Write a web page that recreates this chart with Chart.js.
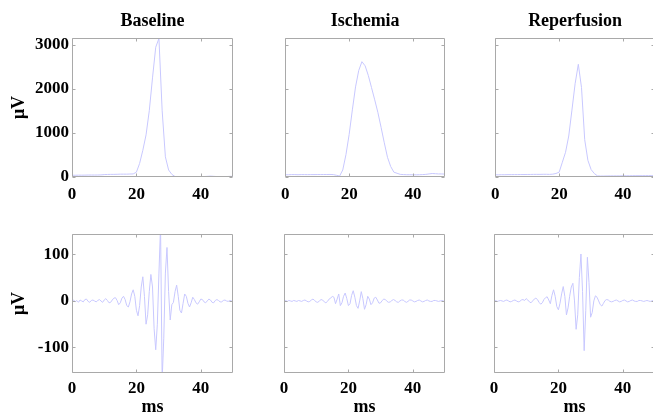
<!DOCTYPE html>
<html>
<head>
<meta charset="utf-8">
<script src="https://cdn.jsdelivr.net/npm/chart.js@4.4.0/dist/chart.umd.min.js"></script>
<style>
  html, body { margin: 0; padding: 0; background: #fff; overflow: hidden; }
  body { width: 653px; height: 414px; position: relative; }
  canvas { position: absolute; }
</style>
</head>
<body>
<script>
const panelTitles = ['Baseline', 'Ischemia', 'Reperfusion'];

// envelope traces, sampled every 1 ms
const envTime = [
  0, 1, 2, 3, 4, 5, 6, 7, 8, 9,
  10, 11, 12, 13, 14, 15, 16, 17, 18, 19,
  20, 21, 22, 23, 24, 25, 26, 27, 28, 29,
  30, 31, 32, 33, 34, 35, 36, 37, 38, 39,
  40, 41, 42, 43, 44, 45, 46, 47, 48, 49,
  50
];
const envBaseline = [
  30, 30, 32, 32, 33, 35, 35, 35, 36, 38,
  45, 48, 50, 50, 52, 55, 55, 55, 58, 60,
  100, 300, 600, 950, 1500, 2250, 2950, 3150, 1500, 450,
  150, 50, 0, -5, -5, -8, -8, -8, -8, -5,
  -5, 0, 5, 10, 5, 0, -5, -5, 0, 5,
  5
];
const envIschemia = [
  40, 42, 45, 45, 42, 45, 45, 44, 45, 45,
  46, 46, 47, 47, 48, 45, 30, 10, 150, 500,
  960, 1520, 2045, 2420, 2620, 2525, 2305, 2030, 1750, 1460,
  1120, 770, 440, 230, 100, 75, 50, 45, 42, 42,
  40, 40, 42, 45, 50, 60, 70, 65, 60, 60,
  55
];
const envReperfusion = [
  40, 40, 42, 42, 44, 44, 45, 45, 46, 46,
  48, 48, 50, 50, 50, 52, 52, 50, 55, 70,
  100, 327, 554, 925, 1515, 2120, 2560, 2030, 840, 370,
  160, 70, 15, 12, 12, 14, 15, 15, 16, 16,
  18, 18, 18, 20, 20, 20, 20, 22, 22, 22,
  20
];

// oscillatory traces, sampled every 0.5 ms
const oscTime = [
  0, 0.5, 1, 1.5, 2, 2.5, 3, 3.5, 4, 4.5,
  5, 5.5, 6, 6.5, 7, 7.5, 8, 8.5, 9, 9.5,
  10, 10.5, 11, 11.5, 12, 12.5, 13, 13.5, 14, 14.5,
  15, 15.5, 16, 16.5, 17, 17.5, 18, 18.5, 19, 19.5,
  20, 20.5, 21, 21.5, 22, 22.5, 23, 23.5, 24, 24.5,
  25, 25.5, 26, 26.5, 27, 27.5, 28, 28.5, 29, 29.5,
  30, 30.5, 31, 31.5, 32, 32.5, 33, 33.5, 34, 34.5,
  35, 35.5, 36, 36.5, 37, 37.5, 38, 38.5, 39, 39.5,
  40, 40.5, 41, 41.5, 42, 42.5, 43, 43.5, 44, 44.5,
  45, 45.5, 46, 46.5, 47, 47.5, 48, 48.5, 49, 49.5,
  50
];
const oscBaseline = [
  0, 2, -2, 1, -3, 2, 0, -2, 3, 4,
  -1, -3, 1, 2, 0, -2, 1, 3, 0, -3,
  2, 5, 1, -4, -3, 2, 6, 7, 1, -8,
  -4, 6, 10, 3, -10, -13, -2, 15, 24, 10,
  -20, -32, -10, 30, 52, 10, -50, -30, 20, 57,
  30, -60, -105, -50, 60, 160, -170, -80, 60, 115,
  20, -41, -8, -3, 20, 34, 10, -20, -26, -5,
  15, 10, -5, -13, -4, 8, 3, -4, -7, -2,
  4, 3, -2, -4, 0, 4, 2, -3, -4, 1,
  3, 1, -2, -2, 1, 2, 0, -1, 1, 0,
  0
];
const oscIschemia = [
  0, 1, -1, 1, 0, -1, 1, 0, -1, 1,
  0, -1, 1, 2, 0, -2, -1, 2, 4, 1,
  -2, -3, 0, 3, 2, -2, -4, -1, 4, 6,
  10, 8, -6, 4, 15, -10, -4, 10, 17, 5,
  -10, -6, 12, 22, 8, -10, -16, 0, 20, 5,
  -18, -8, 10, 4, -8, -4, 6, 8, 2, -5,
  -4, 1, 4, 3, -1, -3, -2, 1, 3, 1,
  -2, -3, 0, 2, 2, -1, -3, -1, 2, 2,
  0, -2, -1, 1, 2, 0, -2, -1, 1, 2,
  0, -1, -1, 1, 1, 0, -1, 0, 1, 0,
  0
];
const oscReperfusion = [
  0, 1, -1, 0, 1, 0, -1, 1, 2, 0,
  -2, -1, 1, 2, 0, -2, -1, 2, 3, 1,
  5, 2, -2, -4, 0, 4, 6, 3, -3, -7,
  -4, 3, 7, 9, 2, -6, 12, 24, 10, -12,
  -19, -5, 15, 31, 10, -30, -15, 10, 30, 38,
  0, -61, -30, 50, 101, 20, -107, -20, 94, 40,
  -35, -25, 0, 11, 8, 0, -8, -11, -5, 1,
  3, 2, -1, -2, -1, 1, 2, 0, -2, -1,
  1, 2, 0, -2, -1, 1, 2, 0, -1, -1,
  1, 1, 0, -1, 0, 1, 0, -1, 0, 1,
  0
];

const xTickValues = [0, 20, 40];
const envTickValues = [0, 1000, 2000, 3000];
const oscTickValues = [-100, 0, 100];

Chart.defaults.font.family = '"Liberation Serif", "Times New Roman", serif';
Chart.defaults.font.size = 17;
Chart.defaults.font.weight = 'bold';
Chart.defaults.color = '#000';

const traceColor = 'rgb(200, 200, 255)';
const frameColor = '#a9a9a9';

// axes box with short inward tick marks on every side
const framePlugin = {
  id: 'frame',
  afterDraw(chart) {
    const { ctx, chartArea: a, scales } = chart;
    const yTicks = chart.options.yTickValues;
    const l = Math.round(a.left) + 0.5, r = Math.round(a.right) - 0.5;
    const t = Math.round(a.top) + 0.5, b = Math.round(a.bottom) - 0.5;
    ctx.save();
    ctx.strokeStyle = frameColor;
    ctx.lineWidth = 1;
    ctx.beginPath();
    ctx.rect(l, t, r - l, b - t);
    xTickValues.forEach(v => {
      const px = Math.round(scales.x.getPixelForValue(v)) + 0.5;
      ctx.moveTo(px, b); ctx.lineTo(px, b - 3);
      ctx.moveTo(px, t); ctx.lineTo(px, t + 3);
    });
    yTicks.forEach(v => {
      const py = Math.round(scales.y.getPixelForValue(v)) + 0.5;
      ctx.moveTo(l, py); ctx.lineTo(l + 3, py);
      ctx.moveTo(r, py); ctx.lineTo(r - 3, py);
    });
    ctx.stroke();
    ctx.restore();
  }
};

const rowLayout = [
  { top: 0, height: 207, axisH: 30, pad: 7, padTop: 0, yMin: -10, yMax: 3160, ticks: envTickValues },
  { top: 214, height: 204, axisH: 45, pad: 5.5, padTop: 20, yMin: -155, yMax: 144, ticks: oscTickValues }
];
const colLayout = [
  { left: 0, width: 243, axisW: 72 },
  { left: 274, width: 181, axisW: 0 },
  { left: 484, width: 181, axisW: 0 }
];

function drawPanel(row, col, time, values) {
  const R = rowLayout[row], C = colLayout[col];
  const canvas = document.createElement('canvas');
  canvas.width = C.width;
  canvas.height = R.height;
  canvas.style.left = C.left + 'px';
  canvas.style.top = R.top + 'px';
  document.body.appendChild(canvas);

  new Chart(canvas, {
    type: 'line',
    data: {
      datasets: [{
        data: time.map((t, i) => ({ x: t, y: values[i] })),
        borderColor: traceColor,
        borderWidth: 1,
        pointRadius: 0,
        tension: 0
      }]
    },
    options: {
      responsive: false,
      animation: false,
      yTickValues: R.ticks,
      layout: { padding: { left: col === 0 ? 0 : 10, right: 10, top: R.padTop, bottom: 0 } },
      plugins: {
        legend: { display: false },
        tooltip: { enabled: false },
        title: {
          display: row === 0,
          text: panelTitles[col],
          fullSize: false,
          font: { size: 18, weight: 'bold' },
          padding: { top: 11, bottom: 5.4 }
        }
      },
      scales: {
        x: {
          type: 'linear',
          min: 0,
          max: 50,
          grid: { display: false, drawTicks: false },
          border: { display: false },
          afterBuildTicks: s => { s.ticks = xTickValues.map(v => ({ value: v })); },
          afterFit: s => { s.height = R.axisH; },
          ticks: { padding: R.pad, maxRotation: 0, autoSkip: false, callback: v => String(v) },
          title: { display: row === 1, text: 'ms', font: { size: 18, weight: 'bold' }, padding: 0 }
        },
        y: {
          display: col === 0,
          min: R.yMin,
          max: R.yMax,
          grid: { display: false, drawTicks: false },
          border: { display: false },
          afterBuildTicks: s => { s.ticks = R.ticks.map(v => ({ value: v })); },
          afterFit: s => { s.width = C.axisW; },
          ticks: { padding: 3, autoSkip: false, callback: v => String(v) },
          title: { display: true, text: 'μV', font: { size: 18, weight: 'bold' }, padding: { top: 9, bottom: 0 } }
        }
      }
    },
    plugins: [framePlugin]
  });
}

drawPanel(0, 0, envTime, envBaseline);
drawPanel(0, 1, envTime, envIschemia);
drawPanel(0, 2, envTime, envReperfusion);
drawPanel(1, 0, oscTime, oscBaseline);
drawPanel(1, 1, oscTime, oscIschemia);
drawPanel(1, 2, oscTime, oscReperfusion);
</script>
</body>
</html>
